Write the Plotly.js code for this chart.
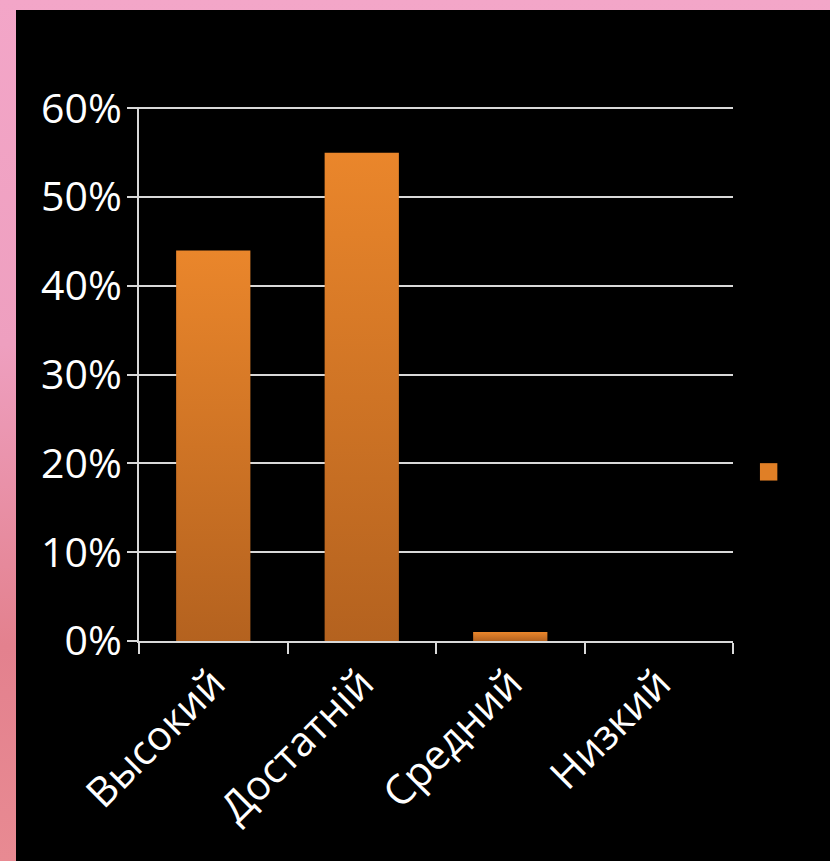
<!DOCTYPE html>
<html>
<head>
<meta charset="utf-8">
<script src="https://cdn.plot.ly/plotly-3.0.1.min.js"></script>
<style>
  html, body { margin: 0; padding: 0; width: 830px; height: 861px; overflow: hidden; }
  body { background: linear-gradient(180deg, #f3a6c8 0%, #ee9fbf 40%, #e3818e 75%, #e88a92 100%); }
  #chart { position: absolute; left: 16px; top: 10px; width: 814px; height: 851px; }
</style>
</head>
<body>
<div id="chart"></div>
<script>
const categories = ['Высокий', 'Достатній', 'Средний', 'Низкий'];
const values = [0.44, 0.55, 0.01, 0];
const yTickVals = [0, 0.1, 0.2, 0.3, 0.4, 0.5, 0.6];
const yTickText = ['0%', '10%', '20%', '30%', '40%', '50%', '60%'];
const seriesName = '\u00a0';

const axisFont = { family: 'Open Sans, sans-serif', size: 41, color: '#ffffff' };

const trace = {
  type: 'bar',
  x: categories,
  y: values,
  name: seriesName,
  showlegend: true,
  marker: { color: '#d4772a', line: { width: 0 } },
  hoverinfo: 'skip'
};

const layout = {
  width: 814,
  height: 851,
  margin: { l: 123, r: 97, t: 97, b: 220 },
  paper_bgcolor: '#000000',
  plot_bgcolor: '#000000',
  bargap: 0.5,
  showlegend: true,
  legend: {
    x: 1.06, xanchor: 'left', y: 0.316, yanchor: 'middle',
    font: { family: 'Open Sans, sans-serif', size: 14, color: '#ffffff' },
    bgcolor: 'rgba(0,0,0,0)'
  },
  xaxis: {
    type: 'category',
    tickangle: -45,
    tickfont: axisFont,
    showgrid: false,
    showline: true,
    linecolor: '#d9d9d9',
    linewidth: 2,
    ticks: 'outside',
    tickson: 'boundaries',
    ticklen: 11,
    tickwidth: 2,
    tickcolor: '#d9d9d9',
    zeroline: false
  },
  yaxis: {
    range: [0, 0.6015],
    tickvals: yTickVals,
    ticktext: yTickText,
    tickfont: axisFont,
    ticklabelstandoff: -3,
    showgrid: true,
    gridcolor: '#d9d9d9',
    gridwidth: 2,
    showline: true,
    linecolor: '#d9d9d9',
    linewidth: 2,
    ticks: 'outside',
    ticklen: 10,
    tickwidth: 2,
    tickcolor: '#d9d9d9',
    zeroline: false
  }
};

Plotly.newPlot('chart', [trace], layout, { staticPlot: true, displayModeBar: false }).then(function (gd) {
  const svg = gd.querySelector('svg.main-svg');
  const ns = 'http://www.w3.org/2000/svg';
  let defs = svg.querySelector('defs');
  if (!defs) { defs = document.createElementNS(ns, 'defs'); svg.insertBefore(defs, svg.firstChild); }
  const grad = document.createElementNS(ns, 'linearGradient');
  grad.setAttribute('id', 'barGrad');
  grad.setAttribute('x1', '0'); grad.setAttribute('y1', '0');
  grad.setAttribute('x2', '0'); grad.setAttribute('y2', '1');
  [['0%', '#ea862b'], ['100%', '#b4621f']].forEach(function (s) {
    const st = document.createElementNS(ns, 'stop');
    st.setAttribute('offset', s[0]);
    st.setAttribute('stop-color', s[1]);
    grad.appendChild(st);
  });
  defs.appendChild(grad);
  gd.querySelectorAll('.bars .point path').forEach(function (p) {
    p.style.fill = 'url(#barGrad)';
  });
  gd.querySelectorAll('.legend [clip-path]').forEach(function (el) {
    el.removeAttribute('clip-path');
  });
  gd.querySelectorAll('.legendpoints path').forEach(function (p) {
    p.setAttribute('transform', 'scale(1.45)');
    p.style.fill = '#e07f26';
  });
});
</script>
</body>
</html>
